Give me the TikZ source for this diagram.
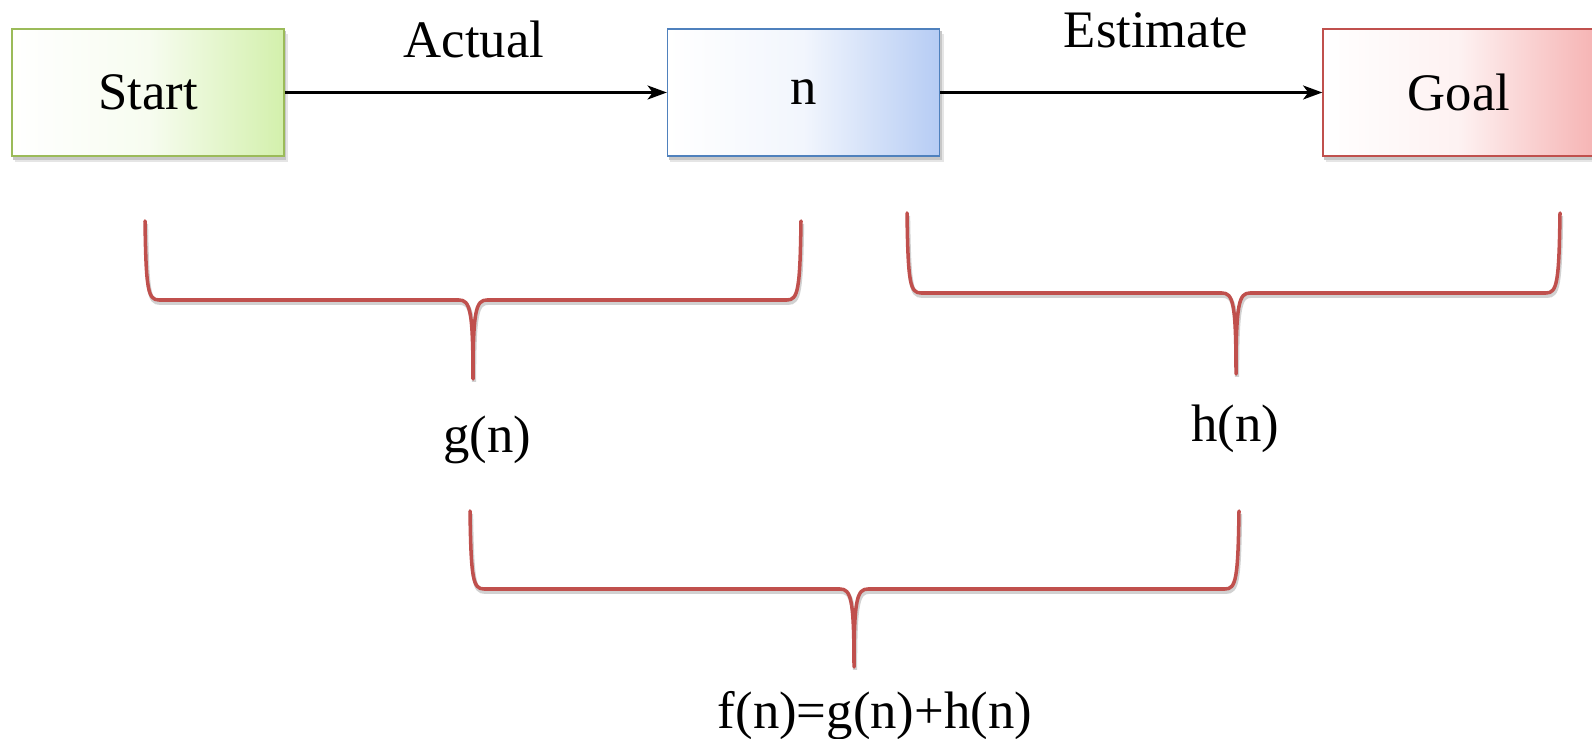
\documentclass[tikz,border=0pt]{standalone}
\usepackage{fontspec}
\setmainfont{Liberation Serif}
\usetikzlibrary{positioning,shapes,backgrounds,arrows.meta}
\definecolor{stgreen}{HTML}{9BBB59}
\definecolor{stgreenfill}{HTML}{D3F0AC}
\definecolor{nblue}{HTML}{4F81BD}
\definecolor{nbluefill}{HTML}{B6CCF4}
\definecolor{glred}{HTML}{C0504D}
\definecolor{glredfill}{HTML}{F6B4B4}
\tikzstyle{state}=[rectangle, line width=0.8pt, minimum width=5.44cm, minimum height=2.54cm,
        text centered, font=\fontsize{30}{34}\selectfont]
\tikzstyle{label}=[font=\fontsize{30}{34}\selectfont, inner sep=0pt]
\tikzstyle{myarrow}=[-{Stealth[length=11pt, width=8pt, inset=3pt]}, line width=1.3pt]
\tikzstyle{curly}=[draw=glred, line width=2pt, line cap=round, line join=round,
        preaction={draw=black!18, line width=2.4pt, transform canvas={xshift=0.6pt, yshift=-1.6pt}}]

\begin{document}
\begin{tikzpicture}[x=0.02cm, y=-0.02cm]
	\useasboundingbox (0,0) rectangle (1592,739);

	\node (Start) [state, draw=stgreen, left color=white, right color=stgreenfill, middle color=stgreenfill!18!white] at (148,92.5) {Start};
	\node (N) [state, draw=nblue, left color=white, right color=nbluefill, middle color=nbluefill!18!white] at (803.5,92.5) {n};
	\node (Goal) [state, draw=glred, left color=white, right color=glredfill, middle color=glredfill!18!white] at (1459,92.5) {Goal};

	% soft shadows below the boxes
	\begin{scope}[on background layer]
	\foreach \nd in {Start,N,Goal} {
		\fill[black!10] ([shift={(2pt,-3.2pt)}]\nd.south west) rectangle ([shift={(2pt,-3.2pt)}]\nd.north east);
		\fill[black!22] ([shift={(1pt,-1.8pt)}]\nd.south west) rectangle ([shift={(1pt,-1.8pt)}]\nd.north east);
	}
	\end{scope}

	\node (Actual) [label] at (474,39) {Actual};
	\node (Estimate) [label] at (1156,30) {Estimate};

\draw[myarrow] (Start.east) -- (N.west);
\draw[myarrow] (N.east) -- (Goal.west);

	% braces
\draw[curly] (145,221) .. controls (146,290) and (148,300) .. (159,300) -- (459,300)
        .. controls (470,300) and (473,310) .. (473,379) .. controls (473,310) and (476,300) .. (487,300)
        -- (787,300) .. controls (798,300) and (800,290) .. (801,221);
\draw[curly] (907,213) .. controls (908,283) and (910,293) .. (921,293) -- (1222,293)
        .. controls (1233,293) and (1236,303) .. (1236,374) .. controls (1236,303) and (1239,293) .. (1250,293)
        -- (1546,293) .. controls (1557,293) and (1559,283) .. (1560,213);
\draw[curly] (470,511) .. controls (471,579) and (473,589) .. (484,589) -- (840,589)
        .. controls (851,589) and (854,599) .. (854,667) .. controls (854,599) and (857,589) .. (868,589)
        -- (1225,589) .. controls (1236,589) and (1238,579) .. (1239,511);

	\node (G) [label] at (487,440) {g(n)};
	\node (H) [label] at (1235,429) {h(n)};
	\node (F) [label] at (875,716) {f(n)=g(n)+h(n)};

\end{tikzpicture}
\end{document}
